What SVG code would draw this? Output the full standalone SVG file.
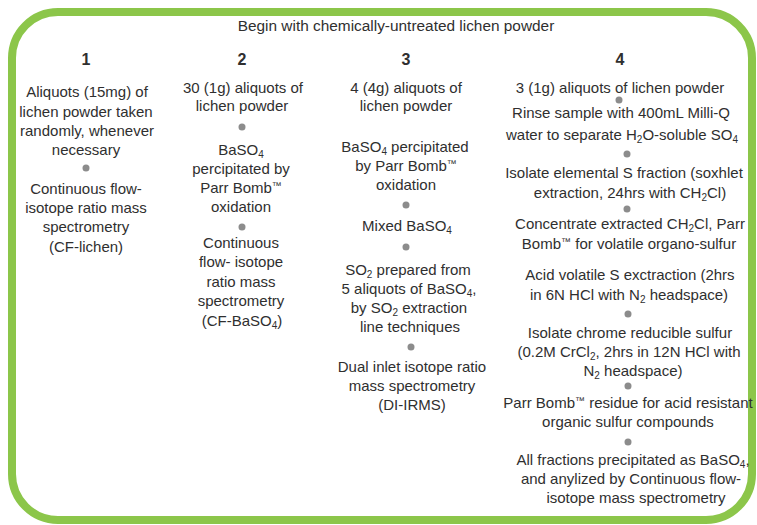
<svg xmlns="http://www.w3.org/2000/svg" width="757" height="525" viewBox="0 0 757 525">
<style>
text{font-family:"Liberation Sans",Arial,sans-serif;font-size:15px;fill:#2f2f2f;text-anchor:middle}
.title{font-size:15.4px}
.num{font-weight:bold;font-size:16px}
.sub{font-size:10px}
.tm{font-size:10px}
.dot{fill:#8c8c8c}
</style>
<rect x="12" y="12" width="740" height="508" rx="46" ry="46" fill="#fff" stroke="#8cc64a" stroke-width="8"/>
<g id="title"><text class="title" x="396" y="31">Begin with chemically-untreated lichen powder</text></g>
<g id="col1">
<text class="num" x="86" y="65">1</text>
<text x="87" y="97">Aliquots (15mg) of</text>
<text x="86" y="117">lichen powder taken</text>
<text x="87" y="136">randomly, whenever</text>
<text x="86" y="155">necessary</text>
<text x="86" y="194">Continuous flow-</text>
<text x="86" y="213">isotope ratio mass</text>
<text x="86" y="232">spectrometry</text>
<text x="86" y="252">(CF-lichen)</text>
</g>
<g id="col2">
<text class="num" x="242" y="65">2</text>
<text x="243" y="93">30 (1g) aliquots of</text>
<text x="242" y="111">lichen powder</text>
<text x="241" y="155">BaSO<tspan class="sub" dy="3">4</tspan></text>
<text x="241" y="174">percipitated by</text>
<text x="241" y="193">Parr Bomb<tspan class="tm" dy="-4">™</tspan></text>
<text x="241" y="212">oxidation</text>
<text x="241" y="248">Continuous</text>
<text x="241" y="267">flow- isotope</text>
<text x="241" y="287">ratio mass</text>
<text x="241" y="306">spectrometry</text>
<text x="242" y="326">(CF-BaSO<tspan class="sub" dy="3">4</tspan><tspan dy="-3">)</tspan></text>
</g>
<g id="col3">
<text class="num" x="406" y="65">3</text>
<text x="406" y="93">4 (4g) aliquots of</text>
<text x="406" y="111">lichen powder</text>
<text x="405" y="152">BaSO<tspan class="sub" dy="3">4</tspan><tspan dy="-3"> percipitated</tspan></text>
<text x="406" y="171">by Parr Bomb<tspan class="tm" dy="-4">™</tspan></text>
<text x="406" y="190">oxidation</text>
<text x="407" y="231">Mixed BaSO<tspan class="sub" dy="3">4</tspan></text>
<text x="408" y="275">SO<tspan class="sub" dy="3">2</tspan><tspan dy="-3"> prepared from</tspan></text>
<text x="409" y="294">5 aliquots of BaSO<tspan class="sub" dy="3">4</tspan><tspan dy="-3">,</tspan></text>
<text x="409" y="313">by SO<tspan class="sub" dy="3">2</tspan><tspan dy="-3"> extraction</tspan></text>
<text x="410" y="332">line techniques</text>
<text x="412" y="372">Dual inlet isotope ratio</text>
<text x="412" y="391">mass spectrometry</text>
<text x="412" y="410">(DI-IRMS)</text>
</g>
<g id="col4">
<text class="num" x="620" y="65">4</text>
<text x="620" y="93">3 (1g) aliquots of lichen powder</text>
<text x="621" y="118">Rinse sample with 400mL Milli-Q</text>
<text x="622" y="140">water to separate H<tspan class="sub" dy="3">2</tspan><tspan dy="-3">O-soluble SO</tspan><tspan class="sub" dy="3">4</tspan></text>
<text x="624" y="178">Isolate elemental S fraction (soxhlet</text>
<text x="630" y="198">extraction, 24hrs with CH<tspan class="sub" dy="3">2</tspan><tspan dy="-3">Cl)</tspan></text>
<text x="630" y="229">Concentrate extracted CH<tspan class="sub" dy="3">2</tspan><tspan dy="-3">Cl, Parr</tspan></text>
<text x="629" y="249">Bomb<tspan class="tm" dy="-4">™</tspan><tspan dy="4">  for volatile organo-sulfur</tspan></text>
<text x="630" y="280">Acid volatile S exctraction (2hrs</text>
<text x="629" y="300">in 6N HCl with N<tspan class="sub" dy="3">2</tspan><tspan dy="-3">  headspace)</tspan></text>
<text x="630" y="338">Isolate chrome reducible sulfur</text>
<text x="629" y="357">(0.2M CrCl<tspan class="sub" dy="3">2</tspan><tspan dy="-3">, 2hrs in 12N HCl with</tspan></text>
<text x="633" y="376">N<tspan class="sub" dy="3">2</tspan><tspan dy="-3">  headspace)</tspan></text>
<text x="628" y="408">Parr Bomb<tspan class="tm" dy="-4">™</tspan><tspan dy="4"> residue for acid resistant</tspan></text>
<text x="628" y="427">organic sulfur compounds</text>
<text x="633" y="465">All fractions precipitated as BaSO<tspan class="sub" dy="3">4</tspan><tspan dy="-3">,</tspan></text>
<text x="631" y="484">and anylized by Continuous flow-</text>
<text x="636" y="503">isotope mass spectrometry</text>
</g>
<g id="connectors">
<circle class="dot" cx="86" cy="168" r="3.5"/>
<circle class="dot" cx="242" cy="127" r="3.5"/>
<circle class="dot" cx="242" cy="227" r="3.5"/>
<circle class="dot" cx="406" cy="205" r="3.5"/>
<circle class="dot" cx="406" cy="247" r="3.5"/>
<circle class="dot" cx="411" cy="347" r="3.5"/>
<circle class="dot" cx="619" cy="100" r="3.5"/>
<circle class="dot" cx="627" cy="154" r="3.5"/>
<circle class="dot" cx="627" cy="209" r="3.5"/>
<circle class="dot" cx="628" cy="314" r="3.5"/>
<circle class="dot" cx="628" cy="386" r="3.5"/>
<circle class="dot" cx="628" cy="442" r="3.5"/>
</g>
</svg>
